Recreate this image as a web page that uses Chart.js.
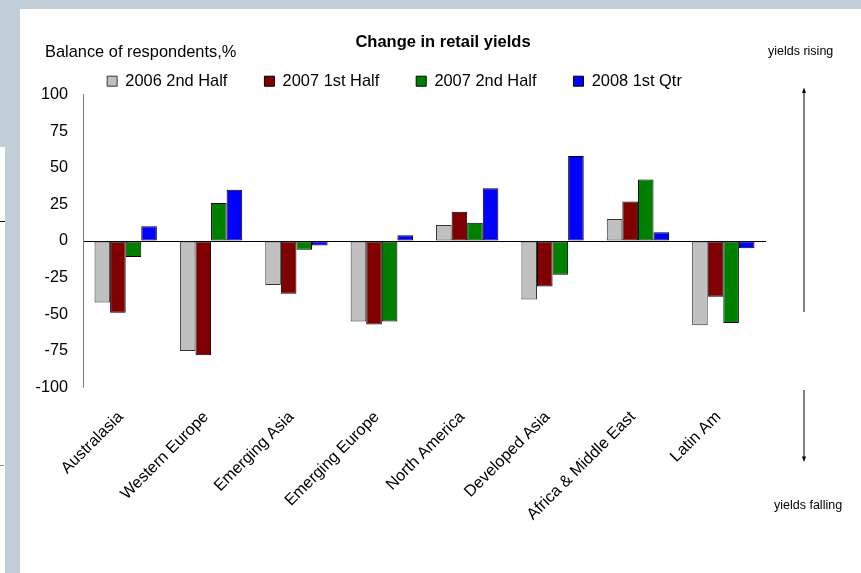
<!DOCTYPE html>
<html>
<head>
<meta charset="utf-8">
<script src="https://cdn.jsdelivr.net/npm/chart.js@4/dist/chart.umd.min.js"></script>
<style>
html,body{margin:0;padding:0;}
body{width:861px;height:573px;position:relative;overflow:hidden;background:#c1cdd7;}
#w{position:absolute;left:20px;top:9px;right:0;bottom:0;background:#fff;}
#s{position:absolute;left:0;top:147px;width:5px;bottom:0;background:#fff;}
#l1{position:absolute;left:0;top:221px;width:5px;height:1px;background:#000;}
#l2{position:absolute;left:0;top:465px;width:4px;height:1px;background:#888;}
canvas{position:absolute;left:0;top:0;}
</style>
</head>
<body>
<div id="w"></div><div id="s"></div><div id="l1"></div><div id="l2"></div>
<canvas id="c" width="861" height="573"></canvas>
<script>
const categories = ['Australasia', 'Western Europe', 'Emerging Asia', 'Emerging Europe', 'North America', 'Developed Asia', 'Africa & Middle East', 'Latin Am'];
const seriesNames = ['2006 2nd Half', '2007 1st Half', '2007 2nd Half', '2008 1st Qtr'];
const h2_2006 = [-42, -75, -30, -55, 11, -40, 15, -57.5];
const h1_2007 = [-49, -78, -36, -57, 20, -31, 27, -38];
const h2_2007 = [-11, 26, -6, -55, 12.5, -23, 42, -56];
const q1_2008 = [10, 35, -3, 4, 36, 58, 6, -5];
const yTicks = [-100, -75, -50, -25, 0, 25, 50, 75, 100];
const chartTitle = 'Change in retail yields';
const yAxisLabel = 'Balance of respondents,%';
const upLabel = 'yields rising';
const downLabel = 'yields falling';

const FONT = '"Liberation Sans", Arial, sans-serif';
Chart.defaults.font.family = FONT;
Chart.defaults.color = '#000';

const fills = ['#c0c0c0', '#800000', '#008000', '#0000ff'];
const borders = ['#333333', '#000000', '#000000', '#000000'];
const values = [h2_2006, h1_2007, h2_2007, q1_2008];

const legendFix = {
  id: 'legendFix',
  beforeLayout(chart) {
    const lg = chart.legend;
    if (lg && !lg._fixed) {
      const f = lg.fit;
      lg.fit = function () { f.call(this); this.height = 58.5; };
      lg._fixed = true;
    }
  }
};

const decor = {
  id: 'decor',
  afterDraw(chart) {
    const ctx = chart.ctx;
    ctx.save();
    ctx.fillStyle = '#000';
    ctx.textBaseline = 'alphabetic';
    ctx.textAlign = 'center';
    ctx.font = 'bold 16.5px ' + FONT;
    ctx.fillText(chartTitle, 443, 47);
    ctx.textAlign = 'left';
    ctx.font = '16.4px ' + FONT;
    ctx.fillText(yAxisLabel, 45, 56.5);
    ctx.font = '12.5px ' + FONT;
    ctx.fillText(upLabel, 768, 55);
    ctx.fillText(downLabel, 774, 509);
    // arrows
    ctx.strokeStyle = '#000';
    ctx.lineWidth = 1;
    ctx.beginPath();
    ctx.moveTo(804, 312); ctx.lineTo(804, 92);
    ctx.moveTo(804, 390); ctx.lineTo(804, 458);
    ctx.stroke();
    ctx.beginPath();
    ctx.moveTo(804, 87.5); ctx.lineTo(802, 93); ctx.lineTo(806, 93); ctx.closePath();
    ctx.moveTo(804, 462); ctx.lineTo(802, 456.5); ctx.lineTo(806, 456.5); ctx.closePath();
    ctx.fill();
    ctx.restore();
  }
};

new Chart(document.getElementById('c'), {
  type: 'bar',
  data: {
    labels: categories,
    datasets: seriesNames.map((name, i) => ({
      label: name,
      data: values[i],
      backgroundColor: fills[i],
      borderColor: borders[i],
      borderWidth: 1,
      borderSkipped: false,
      categoryPercentage: 0.73,
      barPercentage: 1
    }))
  },
  options: {
    responsive: false,
    animation: false,
    layout: { padding: { left: 23, right: 95, top: 36, bottom: 0 } },
    plugins: {
      title: { display: false },
      tooltip: { enabled: false },
      legend: {
        display: true,
        position: 'top',
        align: 'center',
        labels: { boxWidth: 10, boxHeight: 10, padding: 37, font: { size: 16.4 }, color: '#000' }
      }
    },
    scales: {
      x: {
        grid: { display: false },
        border: { display: false },
        ticks: { autoSkip: false, maxRotation: 45, minRotation: 45, padding: 12, labelOffset: -5, font: { size: 16.2 }, color: '#000' },
        afterFit(scale) { scale.height = 185.5; }
      },
      y: {
        min: -100,
        max: 100,
        afterBuildTicks(scale) { scale.ticks = yTicks.map(v => ({ value: v })); },
        grid: {
          drawTicks: false,
          color: (c) => (c.tick && c.tick.value === 0 ? '#000000' : 'rgba(0,0,0,0)'),
          lineWidth: 1
        },
        border: { display: true, color: '#808080', width: 1 },
        ticks: { padding: 15, font: { size: 16.2 }, color: '#000' },
        afterFit(scale) { scale.width = 60; }
      }
    }
  },
  plugins: [legendFix, decor]
});
</script>
</body>
</html>
